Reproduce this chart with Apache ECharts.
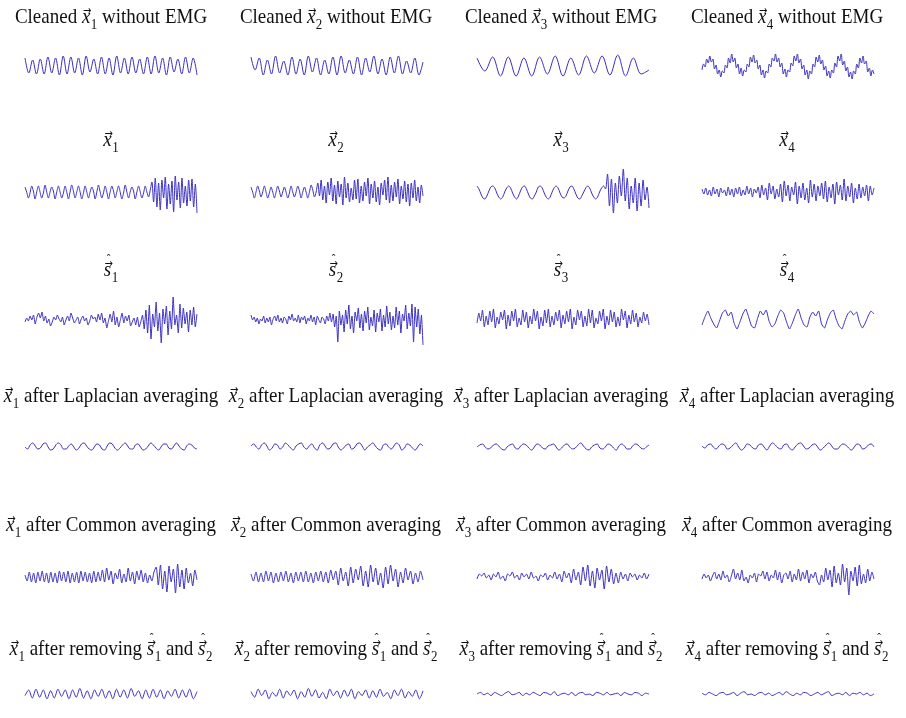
<!DOCTYPE html>
<html><head><meta charset="utf-8">
<script src="https://cdn.jsdelivr.net/npm/echarts@6/dist/echarts.min.js"></script>
<style>html,body{margin:0;padding:0;background:#fff}#c{width:906px;height:718px}</style>
</head><body><div id="c"></div>
<script>
// ---- data (arbitrary amplitude units) ----
const channels = ['1','2','3','4'];
// Row 1: cleaned signals without EMG
const cleanX1 = [8,-7,6,-8,7,-8,9,-7,8,-9,10,-8,9,-7,8,-9,10,-6,7,-8,9,-8,8,-9,10,-7,8,-8,9,-7,7,-8,9,-8,10,-7,8,-9,9,-6,7,-8,9,-7,8,-9];
const cleanX2 = [9,-4,8,-9,6,-8,10,-7,5,-9,9,-8,7,-9,10,-6,8,-9,6,-8,9,-9,10,-7,6,-8,9,-9,8,-6,10,-8,7,-9,9,-7,10,-8,5,-7,8,-9,4];
const cleanX3 = [8,-5,9,-10,9,-10,8,-10,9,-8,10,-10,8,-9,10,-7,10,-9,11,-10,8,-8,-4];
const cleanX4 = [-4,2,-1,7,3,10,4,7,-3,1,-8,-4,-11,-5,-7,1,-2,8,3,12,4,8,-2,2,-8,-2,-10,-4,-6,2,-1,9,4,11,3,6,-3,1,-9,-4,-12,-5,-7,2,-1,8,5,12,4,8,-1,3,-8,-3,-11,-4,-6,3,0,10,5,12,3,7,-3,1,-9,-4,-13,-5,-8,2,-1,9,4,11,2,6,-4,0,-10,-5,-12,-4,-7,3,-1,10,5,12,1,5,-5,-1,-11,-6,-13,-5,-8,2,-2,8,3,10,2,5,-6,-2,-10,-4,-8];
// Row 2: recorded signals
const rawX1 = [5,0,-6,-1,6,1,-7,0,6,0,-6,-1,7,0,-6,0,5,1,-7,0,6,0,-6,-1,6,0,-7,0,7,1,-6,0,6,0,-7,-1,6,0,-6,0,5,1,-7,0,7,0,-6,-1,6,0,-7,0,6,1,-6,0,6,0,-7,-1,7,0,-6,0,5,1,-7,0,6,0,-6,-1,6,0,-5,2,
  10,-10,14,-15,9,-18,12,-6,15,-17,8,-12,11,-20,16,-8,10,-16,14,-11,6,-14,12,-9,13,-15,8,-21];
const rawX2 = [5,0,-6,0,6,1,-5,0,6,0,-6,-1,5,0,-6,0,6,1,-5,0,5,0,-6,-1,6,0,-5,0,6,1,-6,0,5,0,-6,0,7,2,-5,0,
  9,-4,12,-8,6,-11,10,-3,14,-9,7,-12,11,-5,8,-13,15,-6,9,-10,4,-8,12,-7,13,-11,6,-9,10,-4,14,-12,8,-6,11,-10,5,-13,9,-3,12,-8,15,-11,7,-9,10,-5,13,-12,6,-7,11,-10,8,-14,9,-6,12,-9,5,-11,7,-4];
const rawX3 = [6,3,-2,-6,-7,-4,1,5,6,4,-1,-5,-7,-5,0,4,6,4,-1,-5,-7,-4,1,5,6,3,-2,-6,-7,-4,0,5,6,4,-1,-5,-7,-5,0,4,6,4,-1,-5,-6,-4,1,5,6,3,-2,-6,-7,-4,0,4,6,4,-1,-5,-7,-5,0,4,6,3,
  18,-14,13,-21,9,-11,16,-4,23,-9,14,-17,6,-11,14,-19,9,-14,12,-8,5,-16];
const rawX4 = [3,-2,4,-3,2,-4,5,-2,3,-5,4,-1,2,-4,5,-3,3,-5,4,-2,5,-4,2,-3,6,-2,4,-5,3,-1,5,-6,7,-3,4,-8,9,-2,6,-7,3,-5,8,-10,11,-4,7,-9,5,-3,10,-12,6,-6,9,-8,4,-11,12,-5,8,-9,6,-4,9,-7,11,-10,5,-6,8,-12,10,-3,7,-8,13,-9,6,-5,9,-11,4,-7,8,-6,5,-4,7,-9,6,-3,4];
// Row 3: estimated sources
const srcS1 = [-3,1,-2,3,-1,4,-5,2,6,1,7,-2,3,-4,0,-7,-3,2,-1,4,0,-3,2,-6,-1,3,-2,6,1,-4,-1,2,-5,0,3,-2,1,-6,-2,4,0,2,-3,5,-1,6,-4,1,-9,-2,5,-3,8,-6,2,-8,-1,6,-4,3,-2,4,-7,-3,1,-6,2,-8,-3,4,
  -10,9,-14,14,-20,5,-8,17,-12,6,-24,10,-5,13,-16,8,-10,22,-6,4,-14,15,-9,11,-5,7,-13,9,-6,12,-8,5];
const srcS2 = [4,-1,2,-3,1,-5,0,-2,3,-4,1,-3,2,-6,0,3,-2,4,-3,1,-4,2,0,-5,3,-1,5,-2,1,-3,4,-4,2,-1,3,-5,1,-2,4,-3,2,-6,3,-1,-4,2,0,-5,3,-2,
  6,-3,5,-8,3,-23,8,-6,4,-13,9,-5,14,-10,3,-14,7,-2,11,-9,5,-12,8,-4,12,-11,2,-7,9,-13,6,-3,10,-12,4,-8,13,-5,7,-11,3,-9,12,-6,8,-14,5,-2,14,-10,6,-7,15,-23,12,-8,10,-15,4,-26];
const srcS3 = [-4,6,-2,9,-8,3,-6,8,-3,10,-9,2,-5,7,-1,9,-10,4,-7,8,-2,10,-8,1,-6,9,-3,7,-9,3,-5,10,-2,8,-10,2,-7,9,-4,10,-8,3,-6,7,-2,9,-9,4,-5,8,-3,10,-10,2,-6,9,-1,8,-8,3,-7,10,-4,9,-9,1,-5,8,-2,10,-10,3,-6,9,-3,7,-8,2,-7,10,-1,8,-9,4,-5,9,-3,6,-8,2,-4,7,-2,5,-6];
const srcS4 = [-6,2,8,1,-5,-9,-2,6,9,3,7,-4,-10,-3,5,10,2,-7,-9,0,8,4,9,-2,-8,-5,3,9,6,-3,-10,-4,4,10,1,-6,-8,2,7,3,8,-5,-9,-1,6,9,0,-7,-10,-2,5,8,4,7,-3,-9,-4,3,8,5];
// Row 4: Laplacian averaging
const lapX1 = [0,-2,2,4,1,-2,-1,3,4,0,-3,-2,2,4,2,-2,-2,1,3,0,-3,-1,3,4,1,-2,-3,0,3,2,-2,-3,1,4,3,-1,-3,-1,2,4,1,-2,-2,2,3,0,-3,-2,1,4,2,-1,-3,0,3,3,-1,-2,1,4,1,-2,-3,1,3,2,-1,-2];
const lapX2 = [1,3,0,-2,2,4,1,-3,-1,3,2,-2,0,4,2,-1,-3,1,3,4,0,-2,1,3,-1,-3,2,4,1,-2,-1,3,4,0,-3,-1,2,3,-2,-1,3,4,1,-3,0,2,4,1,-2,-3,2,3,0,-2,1,4,2,-3,-1,3,2,-1,-3,0,3,1];
const lapX3 = [0,2,3,0,-2,-1,2,3,1,-2,-3,0,2,3,-1,-2,1,3,2,-1,-3,0,3,2,-1,-2,1,2,3,0,-3,-1,2,3,0,-2,-1,2,4,1,-2,-3,0,2,3,-1,-2,0,3,2,-1,-3,1,3,1,-2,-2,1,3,2,-1,-2,0,2];
const lapX4 = [1,-1,2,3,0,-2,1,3,2,-2,-1,2,4,0,-3,-1,3,2,-1,-2,2,3,0,-3,1,4,2,-1,-2,2,3,-1,-3,0,3,4,1,-2,-1,2,3,0,-3,-1,2,4,1,-2,-2,1,3,2,-1,-3,0,3,2,-2,-1,2,3,0];
// Row 5: common averaging
const carX1 = [2,-4,5,-5,4,-6,5,-4,6,-5,4,-6,5,-5,4,-6,6,-4,5,-5,6,-6,4,-5,5,-6,6,-4,5,-5,4,-6,6,-5,5,-4,7,-5,9,-3,6,-7,4,-2,8,-6,3,-5,9,-4,5,-7,6,-3,7,-5,4,-6,2,-4,5,10,-8,12,-12,6,-15,11,-5,8,-16,13,-10,7,-12,9,-6,4,-9,7,-3];
const carX2 = [3,-4,5,-5,4,-5,6,-4,5,-6,4,-5,5,-4,6,-5,4,-6,5,-4,5,-5,6,-5,4,-6,5,-4,6,-5,5,-6,7,-3,6,-8,9,-4,5,-9,10,-6,8,-3,11,-9,6,-10,12,-5,9,-8,4,-11,10,-7,12,-4,8,-10,5,-6,9,-3,6,-7,4,-5,6,-3];
const carX3 = [-2,3,1,4,-1,2,-3,3,0,5,-2,1,-4,3,1,5,-1,2,-3,4,0,3,-2,5,-1,1,-4,2,0,4,-3,2,-1,5,-2,3,-5,6,-1,4,-6,8,-3,5,-8,10,-4,12,-9,6,-11,9,-3,7,-12,11,-5,8,-7,4,-6,5,-2,3,-4,4,0,3,-3,2,-1,4,-2,3];
const carX4 = [-2,3,-1,2,-4,1,5,-2,3,-3,6,-1,2,-5,1,8,-2,4,-3,7,-4,0,-6,2,-1,4,-5,3,1,6,-2,5,-4,2,-1,7,-3,5,-6,2,4,-2,6,-5,3,-3,8,-4,5,-2,7,-6,3,-1,5,-4,-8,2,-5,9,-3,7,-10,11,-6,4,-8,13,-5,9,-18,6,-4,10,-9,12,-7,3,-6,8,-4,5,-2];
// Row 6: after removing s1 and s2
const remX1 = [-2,5,-5,6,-4,5,-6,4,-5,6,-3,5,-6,5,-4,7,-5,4,-6,5,-3,6,-5,4,-6,6,-4,5,-5,7,-3,4,-6,5,-5,6,-4,5,-6,4,-3,6,-5,5,-4,6,-6,3];
const remX2 = [3,-4,6,-2,5,-6,2,-3,6,-5,4,-2,5,-6,3,-4,7,-3,5,-5,2,-6,6,-2,4,-5,5,-3,6,-6,3,-2,5,-5,4,-4,6,-3,2,-6,5,-2,6,-5,3,-3,5,-6,4];
const remX3 = [0,2,-1,1,-2,2,0,-2,1,3,-1,0,2,-2,1,-1,2,0,-2,2,1,-1,3,-2,0,1,-1,2,-2,1,2,-1,0,-2,2,1,-1,2,-1,0,1,-2,2,0,-1,2,1,-2,1,0];
const remX4 = [1,-1,2,0,-2,1,2,-1,0,2,-2,1,3,-1,0,-2,1,2,-1,1,-2,0,2,-1,3,0,-2,1,-1,2,1,-2,0,2,-1,1,3,-2,0,1,-1,2,-2,1,0,2,-1,1,-2,0];

const rowsData = [
  [cleanX1, cleanX2, cleanX3, cleanX4],
  [rawX1, rawX2, rawX3, rawX4],
  [srcS1, srcS2, srcS3, srcS4],
  [lapX1, lapX2, lapX3, lapX4],
  [carX1, carX2, carX3, carX4],
  [remX1, remX2, remX3, remX4]
];

// title templates: strings are plain text, objects are vector symbols with subscripts
const titleTemplates = [
  c => ['Cleaned ', {v: 'x', sub: c}, ' without EMG'],
  c => [{v: 'x', sub: c}],
  c => [{v: 's', sub: c, hat: true}],
  c => [{v: 'x', sub: c}, ' after Laplacian averaging'],
  c => [{v: 'x', sub: c}, ' after Common averaging'],
  c => [{v: 'x', sub: c}, ' after removing ', {v: 's', sub: '1', hat: true}, ' and ', {v: 's', sub: '2', hat: true}]
];

// ---- layout ----
const colLeft = [25, 251, 477, 702];
const colCenter = [111, 336, 561, 787];
const plotW = 172;
const rowCenter = [66, 192, 319, 447, 577, 700];
const titleBaseline = [24, 147, 277, 403, 532, 656];
const halfH = 30;
const smoothRow = [0.35, 0.3, 0.15, 0.4, 0.25, 0.3];
const INK = '#111111';
const LINE = '#3b30c0';
const FS = 19, SUBFS = 13, STRETCH = 1.12;
const FN = '"Liberation Serif", "DejaVu Serif", serif';
const fNormal = FS + 'px ' + FN;
const fItalic = 'italic ' + FS + 'px ' + FN;
const fSub = SUBFS + 'px ' + FN;
const fArrow = '10px "DejaVu Sans", sans-serif';
const fHat = '11px ' + FN;

const mctx = document.createElement('canvas').getContext('2d');
function tw(t, f) { mctx.font = f; return mctx.measureText(t).width; }

function textEl(t, x, y, font) {
  return {type: 'text', x: x, y: y, scaleY: STRETCH, silent: true,
    style: {text: t, font: font, fill: INK, textAlign: 'left', textVerticalAlign: 'middle', align: 'left', verticalAlign: 'middle'}};
}

function buildTitle(tokens, cx, base) {
  const widths = tokens.map(tk => typeof tk === 'string' ? tw(tk, fNormal) : tw(tk.v, fItalic) + 0.5 + tw(tk.sub, fSub));
  const total = widths.reduce((a, b) => a + b, 0);
  let x = cx - total / 2;
  const els = [];
  const midOff = 0.34 * FS;
  tokens.forEach((tk, i) => {
    if (typeof tk === 'string') {
      els.push(textEl(tk, x, base - midOff, fNormal));
    } else {
      const lw = tw(tk.v, fItalic);
      els.push(textEl(tk.v, x, base - midOff, fItalic));
      const aw = tw('\u2192', fArrow);
      els.push(textEl('\u2192', x + lw / 2 - aw / 2 + 1.2, base - 11.5 * STRETCH, fArrow));
      if (tk.hat) {
        const hw = tw('\u02c6', fHat);
        els.push(textEl('\u02c6', x + lw / 2 - hw / 2 + 1.2, base - 15 * STRETCH, fHat));
      }
      els.push(textEl(tk.sub, x + lw + 0.5, base - 0.34 * SUBFS + 5.5, fSub));
    }
    x += widths[i];
  });
  return els;
}

const grid = [], xAxis = [], yAxis = [], series = [], graphics = [];
let k = 0;
for (let r = 0; r < 6; r++) {
  for (let c = 0; c < 4; c++) {
    const d = rowsData[r][c];
    grid.push({left: colLeft[c], top: rowCenter[r] - halfH, width: plotW, height: 2 * halfH, containLabel: false});
    xAxis.push({type: 'category', gridIndex: k, data: d.map((_, i) => i), boundaryGap: false, show: false});
    yAxis.push({type: 'value', gridIndex: k, min: -halfH, max: halfH, show: false});
    series.push({type: 'line', xAxisIndex: k, yAxisIndex: k, data: d, showSymbol: false, smooth: smoothRow[r],
      lineStyle: {color: LINE, width: 1}, animation: false});
    graphics.push(...buildTitle(titleTemplates[r](channels[c]), colCenter[c], titleBaseline[r]));
    k++;
  }
}
const chart = echarts.init(document.getElementById('c'), null, {renderer: 'canvas'});
chart.setOption({backgroundColor: '#ffffff', animation: false, grid, xAxis, yAxis, series, graphic: {elements: graphics}});
</script></body></html>
